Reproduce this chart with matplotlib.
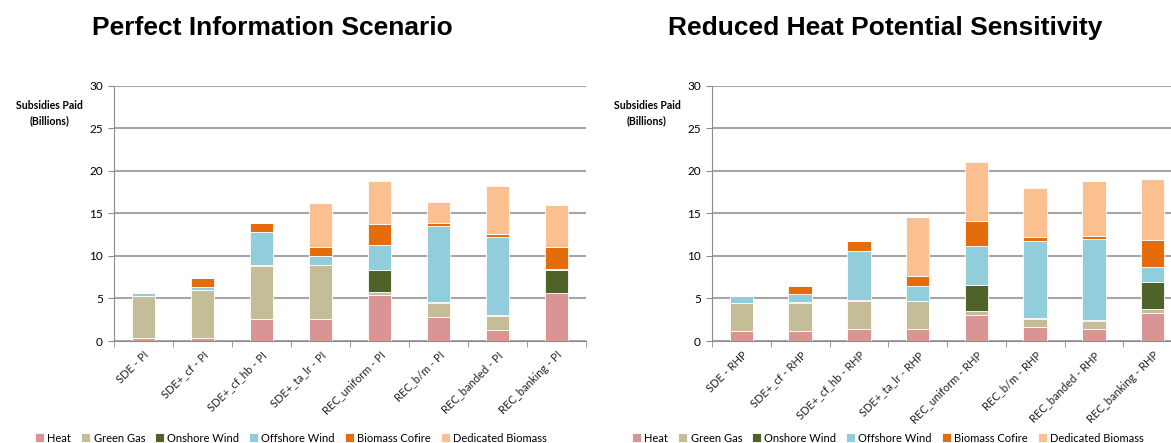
import numpy as np
import matplotlib
matplotlib.use("Agg")
import matplotlib.pyplot as plt

# categories (x labels)
pi_labels = ["SDE - PI", "SDE+_cf - PI", "SDE+_cf_hb - PI", "SDE+_ta_lr - PI",
             "REC_uniform - PI", "REC_b/m - PI", "REC_banded - PI", "REC_banking - PI"]
rhp_labels = ["SDE - RHP", "SDE+_cf - RHP", "SDE+_cf_hb - RHP", "SDE+_ta_lr - RHP",
              "REC_uniform - RHP", "REC_b/m - RHP", "REC_banded - RHP", "REC_banking - RHP"]

techs = ["Heat", "Green Gas", "Onshore Wind", "Offshore Wind", "Biomass Cofire", "Dedicated Biomass"]
colors = ["#D99594", "#C4BD97", "#4F6228", "#92CDDC", "#E46C0A", "#FAC090"]

# Perfect Information scenario (billions), one list per technology
pi_heat      = [0.30, 0.30, 2.62, 2.62, 5.37, 2.78, 1.25, 5.64]
pi_gas       = [4.95, 5.65, 6.23, 6.27, 0.35, 1.72, 1.69, 0.05]
pi_onshore   = [0.05, 0.05, 0.10, 0.05, 2.62, 0.05, 0.12, 2.70]
pi_offshore  = [0.30, 0.35, 3.80, 1.00, 2.94, 8.90, 9.20, 0.05]
pi_cofire    = [0.00, 1.00, 1.10, 1.10, 2.47, 0.44, 0.31, 2.65]
pi_dedicated = [0.00, 0.05, 0.05, 5.20, 5.00, 2.46, 5.64, 4.90]

# Reduced Heat Potential sensitivity (billions)
rhp_heat      = [1.21, 1.21, 1.37, 1.37, 3.09, 1.60, 1.37, 3.33]
rhp_gas       = [3.26, 3.30, 3.37, 3.33, 0.47, 1.02, 0.94, 0.43]
rhp_onshore   = [0.03, 0.03, 0.10, 0.03, 3.06, 0.12, 0.12, 3.21]
rhp_offshore  = [0.75, 0.95, 5.77, 1.75, 4.58, 9.05, 9.56, 1.76]
rhp_cofire    = [0.00, 1.00, 1.10, 1.10, 2.86, 0.47, 0.31, 3.14]
rhp_dedicated = [0.00, 0.03, 0.03, 6.97, 6.94, 5.68, 6.46, 7.17]

pi_data = [pi_heat, pi_gas, pi_onshore, pi_offshore, pi_cofire, pi_dedicated]
rhp_data = [rhp_heat, rhp_gas, rhp_onshore, rhp_offshore, rhp_cofire, rhp_dedicated]

body_font = ["Lato", "DejaVu Sans"]
title_font = ["Liberation Sans", "DejaVu Sans"]

fig = plt.figure(figsize=(11.71, 4.43), dpi=100)


def draw_panel(ax, labels, data):
    x = np.arange(len(labels))
    bottom = np.zeros(len(labels))
    handles = []
    for name, vals, c in zip(techs, data, colors):
        vals = np.array(vals)
        b = ax.bar(x, vals, width=0.4, bottom=bottom, color=c, label=name,
                   edgecolor="white", linewidth=0.6, zorder=3)
        handles.append(b)
        bottom += vals
    ax.set_ylim(0, 30)
    ax.set_xlim(-0.5, len(labels) - 0.5)
    ax.set_yticks(range(0, 31, 5))
    ax.yaxis.grid(True, color="#A6A6A6", linewidth=1.5, zorder=0)
    for s in ["top", "right"]:
        ax.spines[s].set_visible(False)
    ax.spines["left"].set_color("#8C8C8C")
    ax.spines["bottom"].set_color("#8C8C8C")
    ax.set_xticks(x)
    ax.set_xticklabels(labels, rotation=45, ha="right", rotation_mode="anchor",
                       fontsize=8, family=body_font, color="#222222")
    ax.set_xticks(np.arange(-0.5, len(labels), 1.0), minor=True)
    ax.tick_params(axis="x", which="major", length=0, pad=6)
    ax.tick_params(axis="x", which="minor", length=4, color="#8C8C8C")
    ax.tick_params(axis="y", length=4, color="#8C8C8C", labelsize=8.5, pad=4)
    for t in ax.get_yticklabels():
        t.set_family(body_font)
    return handles


ax1 = fig.add_axes([114 / 1171, 102 / 443, 472 / 1171, 255.5 / 443])
h = draw_panel(ax1, pi_labels, pi_data)
ax2 = fig.add_axes([712 / 1171, 102 / 443, 470 / 1171, 255.5 / 443])
draw_panel(ax2, rhp_labels, rhp_data)

fig.text(272 / 1171, 1 - 28 / 443, "Perfect Information Scenario", ha="center", va="center",
         fontsize=19, fontweight="bold", family=title_font)
fig.text(885 / 1171, 1 - 28 / 443, "Reduced Heat Potential Sensitivity", ha="center", va="center",
         fontsize=19, fontweight="bold", family=title_font)

for xc in [49.5 / 1171, 647 / 1171]:
    fig.text(xc, 1 - 113 / 443, "Subsidies Paid\n(Billions)", ha="center", va="center",
             fontsize=7.6, fontweight="bold", family=body_font, linespacing=1.45)

for xc in [291 / 1171, 888 / 1171]:
    fig.legend(h, techs, loc="center", bbox_to_anchor=(xc, 5 / 443), ncol=6, frameon=False,
               handlelength=0.8, handleheight=0.8, handletextpad=0.3, columnspacing=0.9,
               prop={"family": body_font, "size": 8})

fig.savefig("out.png", dpi=100)
